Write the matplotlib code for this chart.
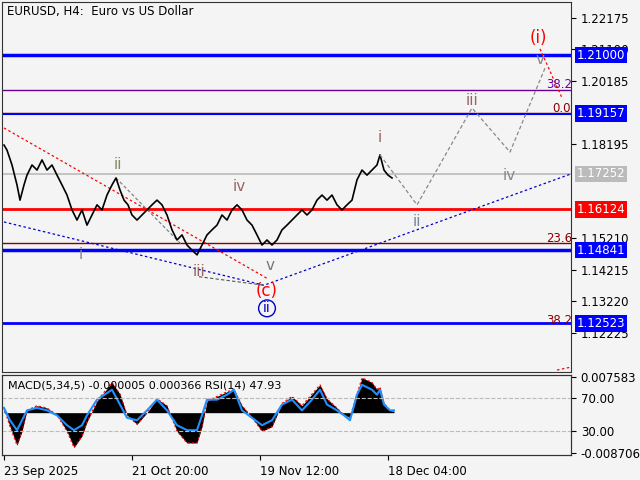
import matplotlib
matplotlib.use("Agg")
import matplotlib.pyplot as plt

# ---- data ----
bar_x = [2,5,10,15,18,22,25,30,35,40,45,50,55,60,65,70,75,80,85,90,95,100,105,110,114,118,122,126,130,135,140,145,150,155,160,165,170,175,180,185,190,195,200,205,210,215,220,225,230,235,240,245,250,255,260,265,270,275,280,285,290,295,300,305,310,315,320,325,330,335,340,345,350,355,360,365,370,375,378,382,386,390]
close = [1.1816,1.1800,1.1753,1.1690,1.1642,1.1690,1.1721,1.1753,1.1737,1.1769,1.1737,1.1753,1.1721,1.1690,1.1658,1.1611,1.1579,1.1611,1.1563,1.1595,1.1627,1.1611,1.1658,1.1690,1.1712,1.1674,1.1642,1.1627,1.1595,1.1579,1.1595,1.1611,1.1627,1.1642,1.1627,1.1595,1.1548,1.1516,1.1532,1.1500,1.1484,1.1469,1.1500,1.1532,1.1548,1.1563,1.1595,1.1579,1.1611,1.1627,1.1611,1.1579,1.1563,1.1532,1.1500,1.1516,1.1500,1.1516,1.1548,1.1563,1.1579,1.1595,1.1611,1.1595,1.1611,1.1642,1.1658,1.1642,1.1658,1.1627,1.1611,1.1627,1.1642,1.1706,1.1737,1.1721,1.1737,1.1753,1.1785,1.1737,1.1721,1.1712]
rsi_x = [2,8,15,20,25,35,45,55,65,72,80,85,95,110,118,125,135,145,155,165,175,185,195,200,205,215,225,232,240,250,260,270,280,290,300,310,318,325,335,342,348,355,360,370,375,378,382,388,392]
rsi = [58,43,31,43,55,58,55,49,37,31,37,49,68,80,62,46,43,55,68,55,37,31,31,49,68,68,74,80,55,46,37,43,62,68,55,68,80,62,55,49,43,74,86,80,74,80,62,55,55]
macd = [0.0010,-0.0030,-0.0070,-0.0040,0.0005,0.0015,0.0010,-0.0005,-0.0040,-0.0075,-0.0050,-0.0020,0.0025,0.0065,0.0040,-0.0005,-0.0025,0.0000,0.0030,0.0015,-0.0040,-0.0065,-0.0065,-0.0030,0.0025,0.0035,0.0045,0.0050,0.0015,-0.0010,-0.0040,-0.0030,0.0020,0.0035,0.0015,0.0040,0.0060,0.0030,0.0010,-0.0005,-0.0010,0.0040,0.0075,0.0065,0.0050,0.0055,0.0020,0.0005,0.0003]
xtick_pos = [2,130,258,386]
xtick_labels = ["23 Sep 2025","21 Oct 20:00","19 Nov 12:00","18 Dec 04:00"]
price_ticks = [1.22175,1.21190,1.20185,1.18195,1.15210,1.14215,1.13220,1.12225]
levels = [(1.21000,'#0000ff',2.5,True,'white'),(1.19157,'#0000ff',1.5,True,'white'),
          (1.17252,'#bbbbbb',1.2,True,'white'),(1.16124,'#ff0000',2.0,True,'white'),
          (1.14841,'#0000ff',2.5,True,'white'),(1.12523,'#0000ff',2.0,True,'white')]
fib_lines = [(1.1990,'#660099'),(1.1918,'#8b0000'),(1.1508,'#8b0000')]
fib_texts = [(557,1.2008,'38.2','#660099'),(560,1.1932,'0.0','#8b0000'),(557,1.1522,'23.6','#8b0000'),(557,1.1262,'38.2','#8b0000')]
forecast_x = [378,415,470,508,543]
forecast_y = [1.1785,1.1627,1.1933,1.1794,1.2059]
waves = [(79,1.1469,'i','#888888',11),(116,1.1755,'ii','#888866',11),(197,1.1418,'iii','#996666',11),
         (237,1.1684,'iv','#996666',11),(268,1.1434,'v','#777777',11),(378,1.1839,'i','#996666',11),
         (415,1.1573,'ii','#778899',11),(470,1.1956,'iii','#996666',11),(507,1.1721,'iv','#888888',11),
         (538,1.2085,'v','#888888',11),(536,1.2154,'(i)','#ff0000',12),(265,1.1355,'(c)','#ff0000',12)]

BG = '#f4f4f4'
fig = plt.figure(figsize=(6.4,4.8), dpi=100, facecolor=BG)
ax = fig.add_axes([2/640, 108/480, 569/640, 370/480], facecolor=BG)
ymax = 1.22175 + 16*0.000316
ymin = 1.22175 - 354*0.000316
ax.set_xlim(0,569); ax.set_ylim(ymin,ymax)

for y,c in fib_lines:
    ax.axhline(y,color=c,lw=1)
for y,c,lw,box,tc in levels:
    ax.axhline(y,color=c,lw=lw)
    ax.text(1.01,y,f"{y:.5f}",transform=ax.get_yaxis_transform(),va='center',ha='left',
            fontsize=8.5,color=tc,bbox=dict(boxstyle='square,pad=0.15',fc=c,ec='none'),clip_on=False,zorder=5)

ax.plot([2,265],[1.1870,1.1395],color='red',ls=(0,(2,2)),lw=0.9)
ax.plot([2,262,570],[1.1573,1.1373,1.1726],color='#0000cc',ls=(0,(2,2)),lw=0.9)
ax.plot([114,180],[1.1712,1.1500],color='#777777',ls=(0,(3,2)),lw=0.8)
ax.plot([197,262],[1.1400,1.1373],color='#555555',ls=(0,(3,2)),lw=0.8)
ax.plot(bar_x,close,color='black',lw=1.2)
ax.plot(forecast_x,forecast_y,color='#888888',ls=(0,(3,2)),lw=0.9)
ax.plot([538,560],[1.2120,1.1965],color='red',ls=(0,(2,2)),lw=0.9)
ax.plot([555,570],[1.1105,1.1115],color='red',ls=(0,(2,2)),lw=0.9)

for x,y,t,c,fs in waves:
    ax.text(x,y,t,color=c,fontsize=fs,ha='center',va='center')
ax.text(265,1.1300,'ii',color='#0000cc',fontsize=10,ha='center',va='center',
        bbox=dict(boxstyle='circle,pad=0.1',fc='none',ec='#0000cc'))
for x,y,t,c in fib_texts:
    ax.text(x,y,t,color=c,fontsize=8.5,ha='center',va='center')
ax.text(5,1.2238,'EURUSD, H4:  Euro vs US Dollar',fontsize=8.5,va='center')

ax.yaxis.tick_right()
ax.set_yticks(price_ticks)
ax.set_yticklabels([f"{v:.5f}" for v in price_ticks],fontsize=8.5)
ax.set_xticks([])
for s in ax.spines.values(): s.set_color('#333333')

# lower panel
ax2 = fig.add_axes([2/640, 25/480, 569/640, 80/480], facecolor=BG)
ax2.set_xlim(0,569); ax2.set_ylim(-0.0091,0.0081)
ax2.fill_between(rsi_x,0,macd,color='black',lw=0)
ax2.plot(rsi_x,macd,color='red',ls=(0,(2,2)),lw=0.8)
ax2.set_xticks(xtick_pos); ax2.set_xticklabels(xtick_labels,fontsize=8.5,ha='left')
ax3 = ax2.twinx()
ax3.set_ylim(70-(455-398)*40/33, 70+(398-375)*40/33)
ax3.plot(rsi_x,rsi,color='#1e90ff',lw=1.5)
ax3.axhline(70,color='#bbbbbb',ls='--',lw=0.8); ax3.axhline(30,color='#bbbbbb',ls='--',lw=0.8)
ax3.set_yticks([70,30]); ax3.set_yticklabels(['70.00','30.00'],fontsize=8.5)
ax2.yaxis.tick_right()
ax2.set_yticks([0.007583,-0.008706]); ax2.set_yticklabels(['0.007583','-0.008706'],fontsize=8.5)
ax3.text(0.01,0.87,'MACD(5,34,5) -0.000005 0.000366 RSI(14) 47.93',fontsize=8,va='center',transform=ax3.transAxes)
for a in (ax2,ax3):
    for s in a.spines.values(): s.set_color('#333333')
fig.savefig('out.png',dpi=100,facecolor=BG)
